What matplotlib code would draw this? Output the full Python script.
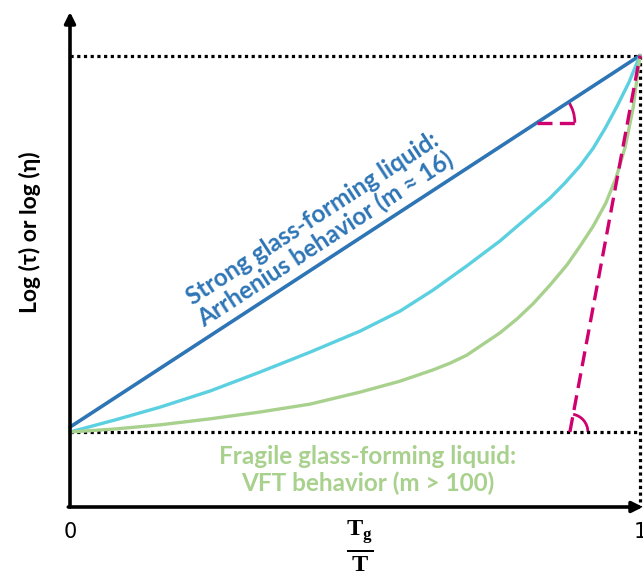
import numpy as np
import matplotlib
matplotlib.use("Agg")
import matplotlib.pyplot as plt
from matplotlib.patches import Arc
from matplotlib.transforms import ScaledTranslation

# Angell plot: reduced inverse temperature vs. log relaxation time / viscosity
strong_x = [0.0, 1.0]
strong_y = [0.013, 1.0]

inter_x = [0.0, 0.079, 0.158, 0.246, 0.333, 0.421, 0.509, 0.579, 0.637, 0.696,
           0.754, 0.812, 0.842, 0.868, 0.895, 0.918, 0.939, 0.960, 0.981, 1.0]
inter_y = [0.0, 0.032, 0.066, 0.109, 0.159, 0.212, 0.268, 0.321, 0.377, 0.441,
           0.507, 0.582, 0.621, 0.661, 0.707, 0.754, 0.807, 0.866, 0.930, 1.0]

fragile_x = [0.0, 0.079, 0.158, 0.246, 0.333, 0.421, 0.509, 0.579, 0.637, 0.667,
             0.696, 0.754, 0.784, 0.812, 0.842, 0.872, 0.895, 0.918, 0.940, 0.958,
             0.974, 0.988, 1.0]
fragile_y = [0.0, 0.008, 0.019, 0.035, 0.053, 0.074, 0.106, 0.135, 0.165, 0.183,
             0.204, 0.263, 0.300, 0.340, 0.390, 0.444, 0.494, 0.547, 0.608, 0.675,
             0.757, 0.861, 1.0]

# steepest slope of the fragile curve at Tg/T = 1
tangent_x = [0.877, 1.0]
tangent_y = [0.0, 1.0]

BLUE = "#2E75B6"
CYAN = "#5BD0E0"
GREEN = "#A9D18E"
MAGENTA = "#D0006E"

fig = plt.figure(figsize=(6.43, 5.84), dpi=100)
ax = fig.add_axes([0, 0, 1, 1])
ax.set_xlim(-70 / 570, 573 / 570)
ax.set_ylim(-152 / 376.5, 432 / 376.5)
ax.axis("off")

y_axis_bottom = -75 / 376.5

# reference levels
dots = dict(color="black", lw=2.3, linestyle=(0, (1, 1.1)), dash_capstyle="butt")
ax.plot([0, 1], [1, 1], **dots)
ax.plot([0, 1], [0, 0], **dots)
ax.plot([1, 1], [1, y_axis_bottom], **dots)

ax.plot(strong_x, strong_y, color=BLUE, lw=2.6, solid_capstyle="round")
ax.plot(inter_x, inter_y, color=CYAN, lw=2.4, solid_capstyle="round",
        solid_joinstyle="round")
ax.plot(fragile_x, fragile_y, color=GREEN, lw=2.4, solid_capstyle="round",
        solid_joinstyle="round")
ax.plot(tangent_x, tangent_y, color=MAGENTA, lw=2.4, linestyle=(0, (4.5, 2.2)))


def slope_arc(x0, y0, radius_px, end_deg):
    trans = fig.dpi_scale_trans + ScaledTranslation(x0, y0, ax.transData)
    d = 2 * radius_px / fig.dpi
    ax.add_patch(Arc((0, 0), d, d, theta1=0, theta2=end_deg, transform=trans,
                     color=MAGENTA, lw=2.0))


def display_angle(xs, ys):
    p = ax.transData.transform(np.column_stack([xs, ys]))
    return np.degrees(np.arctan2(p[1, 1] - p[0, 1], p[1, 0] - p[0, 0]))


# slope markers
x_mark = 0.819
y_mark = strong_y[0] + (strong_y[1] - strong_y[0]) * x_mark
ax.plot([x_mark, x_mark + 0.07], [y_mark, y_mark], color=MAGENTA, lw=2.4,
        linestyle=(0, (4.5, 2.2)))
strong_angle = display_angle(strong_x, strong_y)
slope_arc(x_mark, y_mark, 38, strong_angle)
slope_arc(tangent_x[0], tangent_y[0], 18, display_angle(tangent_x, tangent_y))

# axes with arrow heads
arrow = dict(arrowstyle="-|>", lw=2.6, color="black", mutation_scale=16,
             shrinkA=0, shrinkB=0)
ax.annotate("", xy=(0, 420 / 376.5), xytext=(0, y_axis_bottom), arrowprops=arrow)
ax.annotate("", xy=(573 / 570, y_axis_bottom), xytext=(-0.003, y_axis_bottom),
            arrowprops=arrow)

ax.text(0, -100 / 376.5, "0", ha="center", va="center", fontsize=15,
        family="DejaVu Sans")
ax.text(1, -100 / 376.5, "1", ha="center", va="center", fontsize=15,
        family="DejaVu Sans")

plt.rcParams["mathtext.fontset"] = "custom"
plt.rcParams["mathtext.bf"] = "Liberation Serif:bold"
plt.rcParams["mathtext.rm"] = "Liberation Serif"
ax.text(290 / 570, -114 / 376.5, r"$\frac{\mathbf{T}_{\mathbf{g}}}{\mathbf{T}}$",
        ha="center", va="center", fontsize=25)

ax.text(-40 / 570, 200 / 376.5, "Log (τ) or log (η)", rotation=90, ha="center",
        va="center", fontsize=16.5, fontweight="bold", family="Lato")

ax.text(249 / 570, 203 / 376.5,
        "Strong glass-forming liquid:\nArrhenius behavior (m \u2248 16)",
        rotation=strong_angle, rotation_mode="anchor", ha="center", va="center",
        fontsize=17.5, fontweight="bold", family="Lato", color=BLUE,
        linespacing=1.05)

ax.text(298 / 570, -38 / 376.5,
        "Fragile glass-forming liquid:\nVFT behavior (m > 100)",
        ha="center", va="center", fontsize=17.5, fontweight="bold", family="Lato",
        color=GREEN, linespacing=1.15)

fig.savefig("out.png", dpi=100)
